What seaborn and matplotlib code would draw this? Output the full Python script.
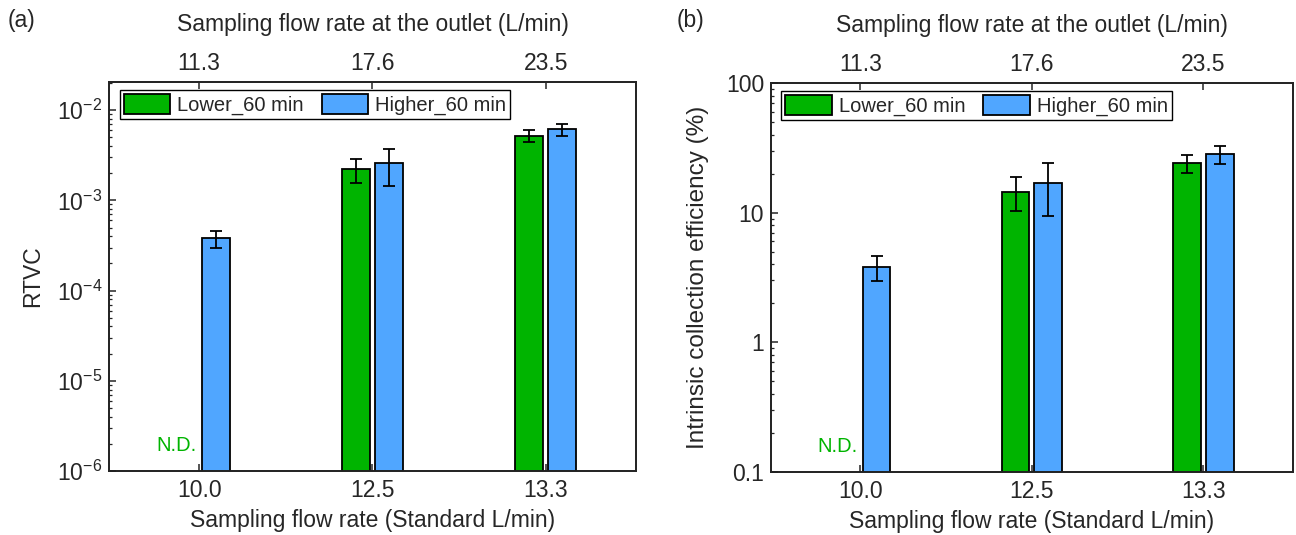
import numpy as np
import pandas as pd
import seaborn as sns
import matplotlib.pyplot as plt
from matplotlib.ticker import LogLocator, NullFormatter, FixedLocator, FixedFormatter

sns.set_style("ticks")
plt.rcParams['font.family'] = ['Liberation Sans', 'DejaVu Sans']

# data
flow_std = ["10.0", "12.5", "13.3"]
flow_outlet = ["11.3", "17.6", "23.5"]
series = ["Lower_60 min", "Higher_60 min"]

rtvc_lower = [np.nan, 2.2e-3, 5.2e-3]
rtvc_lower_err = [np.nan, 0.65e-3, 0.8e-3]
rtvc_higher = [3.8e-4, 2.6e-3, 6.15e-3]
rtvc_higher_err = [0.8e-4, 1.15e-3, 0.95e-3]

eff_lower = [np.nan, 14.5, 24.0]
eff_lower_err = [np.nan, 4.2, 3.7]
eff_higher = [3.8, 16.8, 28.4]
eff_higher_err = [0.85, 7.4, 4.5]

green = "#00b400"
blue = "#50a6ff"
FS = 16.5


def make_df(lower, lower_err, higher, higher_err):
    rows = []
    for i, f in enumerate(flow_std):
        rows.append((f, series[0], lower[i], lower_err[i]))
        rows.append((f, series[1], higher[i], higher_err[i]))
    return pd.DataFrame(rows, columns=["flow", "series", "value", "err"])


def draw_panel(ax, df, ylim, ylabel, ylabel_size, ylabel_pad, yticklabels=None):
    sns.barplot(data=df, x="flow", y="value", hue="series", order=flow_std,
                hue_order=series, palette=[green, blue], saturation=1,
                width=0.38, gap=0.15, errorbar=None, edgecolor="black",
                linewidth=1.3, ax=ax)
    ax.set_yscale("log")

    # error bars at bar centres
    for cont, s in zip(ax.containers, series):
        for bar in cont:
            h = bar.get_height()
            if not np.isfinite(h) or h <= 0:
                continue
            xc = bar.get_x() + bar.get_width() / 2
            cat = flow_std[int(round(xc))]
            e = df[(df.flow == cat) & (df.series == s)]["err"].iloc[0]
            ax.errorbar(xc, h, yerr=e, fmt="none", ecolor="black",
                        elinewidth=1.3, capsize=4, capthick=1.3, zorder=5)

    ax.set_xlim(-0.52, 2.52)
    ax.set_ylim(*ylim)
    ax.yaxis.set_major_locator(LogLocator(base=10, numticks=10))
    ax.yaxis.set_minor_locator(LogLocator(base=10, subs=np.arange(2, 10), numticks=20))
    ax.yaxis.set_minor_formatter(NullFormatter())
    if yticklabels is not None:
        ax.yaxis.set_major_locator(FixedLocator(yticklabels[0]))
        ax.yaxis.set_major_formatter(FixedFormatter(yticklabels[1]))

    ax.set_xlabel("Sampling flow rate (Standard L/min)", fontsize=FS, labelpad=5)
    ax.set_ylabel(ylabel, fontsize=ylabel_size, labelpad=ylabel_pad)
    ax.tick_params(axis="both", which="major", direction="in", length=5,
                   width=1.1, labelsize=FS)
    ax.tick_params(axis="y", which="minor", direction="in", length=2.5, width=0.9)
    ax.tick_params(axis="x", which="major", pad=6)
    ax.tick_params(axis="y", which="major", pad=5)
    for sp in ax.spines.values():
        sp.set_linewidth(1.2)
        sp.set_color("black")

    # N.D. for missing Lower bar
    ax.text(-0.13, 0.04, "N.D.", color=green, fontsize=14.5, ha="center",
            va="bottom", transform=ax.get_xaxis_transform())

    handles, labels = ax.get_legend_handles_labels()
    leg = ax.legend(handles, labels, loc="upper left", bbox_to_anchor=(0.02, 0.979),
                    borderaxespad=0, ncol=2, fontsize=14.5, frameon=True,
                    fancybox=False, framealpha=1, edgecolor="black",
                    handlelength=2.3, handleheight=1.1, handletextpad=0.35,
                    columnspacing=0.9, borderpad=0.2)
    leg.get_frame().set_linewidth(1.0)

    top = ax.twiny()
    top.set_xlim(ax.get_xlim())
    top.set_xticks(range(len(flow_outlet)))
    top.set_xticklabels(flow_outlet)
    top.set_xlabel("Sampling flow rate at the outlet (L/min)", fontsize=FS, labelpad=15)
    top.tick_params(axis="x", direction="in", length=5, width=1.1, labelsize=FS, pad=5)
    for sp in top.spines.values():
        sp.set_linewidth(1.2)


fig = plt.figure(figsize=(12.96, 5.35), dpi=100)
ax_a = fig.add_axes([0.0841, 0.1196, 0.4066, 0.7271])
ax_b = fig.add_axes([0.5949, 0.1178, 0.4025, 0.7271])

df_a = make_df(rtvc_lower, rtvc_lower_err, rtvc_higher, rtvc_higher_err)
df_b = make_df(eff_lower, eff_lower_err, eff_higher, eff_higher_err)

draw_panel(ax_a, df_a, (1e-6, 2.05e-2), "RTVC", 16.5, 9)
draw_panel(ax_b, df_b, (0.1, 100), "Intrinsic collection efficiency (%)", 17.5, 12,
           yticklabels=([0.1, 1, 10, 100], ["0.1", "1", "10", "100"]))

fig.text(0.006, 0.962, "(a)", fontsize=FS, ha="left", va="center")
fig.text(0.522, 0.962, "(b)", fontsize=FS, ha="left", va="center")

fig.savefig("out.png", dpi=100)
